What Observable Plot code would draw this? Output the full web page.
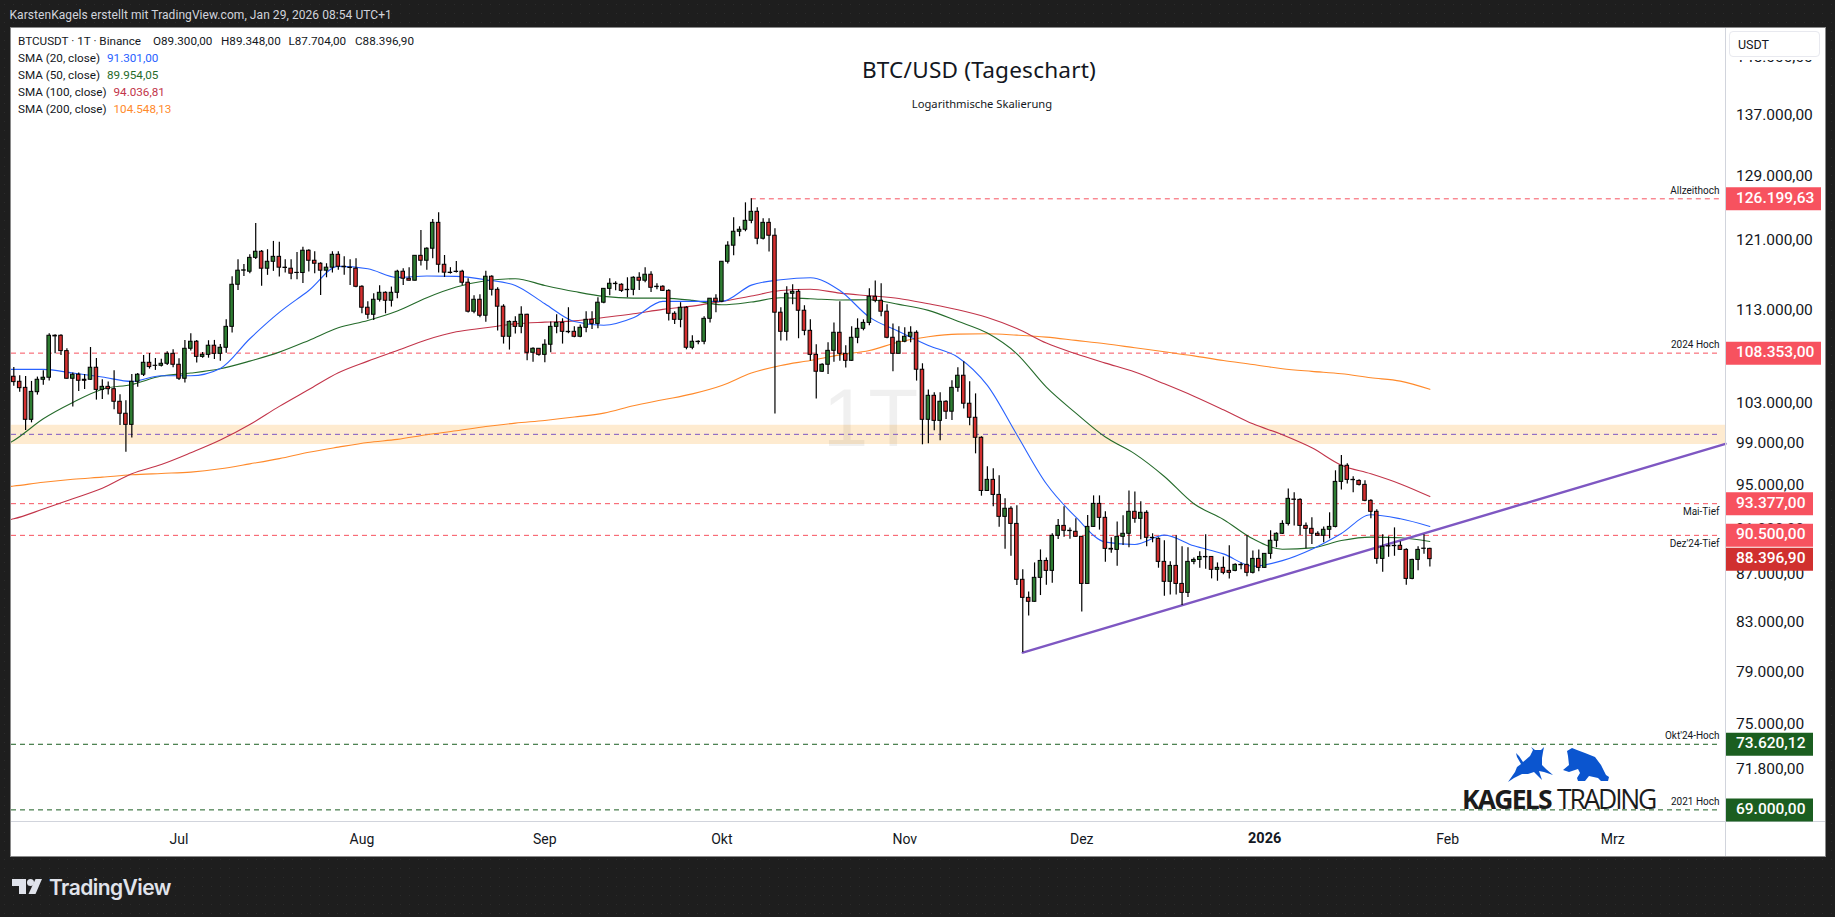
<!DOCTYPE html>
<html lang="de"><head><meta charset="utf-8">
<script src="https://cdn.jsdelivr.net/npm/d3@7"></script>
<script src="https://cdn.jsdelivr.net/npm/@observablehq/plot@0.6"></script>
<style>
html,body{margin:0;padding:0;width:1835px;height:917px;overflow:hidden;background:#1e1e1e;background-image:radial-gradient(#2b2b2b 0.6px,transparent 0.7px);background-size:9px 9px;}
#chart{position:absolute;left:11px;top:28px;width:1814px;height:828px;outline:1px solid #8a8a8a;background:#fff}
#chart svg{display:block}
.t{position:absolute;white-space:nowrap;font-family:Roboto,sans-serif;line-height:1}
.lg{font-size:11.7px;color:#131722}
</style></head><body>
<div id="chart"></div>
<div class="t" style="left:9.5px;top:9px;font-size:12px;color:#d1d4dc;letter-spacing:.06px">KarstenKagels erstellt mit TradingView.com, Jan 29, 2026 08:54 UTC+1</div>
<div id="legend"></div>
<div style="position:absolute;left:1727px;top:29px;width:97px;height:31px;background:#fff"></div>
<div class="t" style="left:1729px;top:31px;width:91px;height:26px;box-sizing:border-box;border:1px solid #e8e9ef;border-radius:4px;background:#fff;font:12.5px/25px Roboto,sans-serif;color:#131722;padding-left:8px">USDT</div>
<div class="t" style="left:779px;width:400px;text-align:center;top:54px;font:22.6px 'Noto Sans',sans-serif;color:#131722;letter-spacing:.2px">BTC/USD (Tageschart)</div>
<div class="t" style="left:780px;width:404px;text-align:center;top:96px;font:11.2px 'Noto Sans',sans-serif;color:#131722">Logarithmische Skalierung</div>
<svg style="position:absolute;left:1508px;top:747px" width="45" height="35" viewBox="0 0 45 35"><path fill="#0b55cf" d="M0 35L7 25L9 20L13 17L9 10L8 6L11 9L15 15L22 9L25 3L23 0L27 3L33 3L36 0L35 5L34 11L34 18L38 22L45 28L36 25L31 24L34 33L26 25L20 27L14 27L6 31Z"/></svg>
<svg style="position:absolute;left:1563px;top:748px" width="46" height="34" viewBox="0 0 46 34"><path fill="#0b55cf" d="M0 22L6 17L5 8L4 3L9 0L14 2L22 5L32 9L38 17L43 27L46 29L45 33L38 33L35 30L26 28L22 33L15 33L14 30L17 25L15 21L6 24Z"/></svg>
<div class="t" style="left:1462px;top:781px;font:700 26.5px 'Open Sans',sans-serif;color:#1c1c1c;letter-spacing:-1.8px">KAGELS</div>
<div class="t" style="left:1557px;top:781px;font:400 26.5px 'Open Sans',sans-serif;color:#1c1c1c;letter-spacing:-2.2px">TRADING</div>
<svg style="position:absolute;left:12px;top:879px" width="30" height="15" viewBox="0 0 30 15"><path fill="#e0e3eb" d="M0 0H14V15H7V7H0Z"/><circle fill="#e0e3eb" cx="18.5" cy="3.5" r="3.5"/><path fill="#e0e3eb" d="M23.5 0H30L23.5 15H16.5Z"/></svg>
<div class="t" style="left:49px;top:875px;font:600 21px Inter,sans-serif;color:#e0e3eb;letter-spacing:-.55px">TradingView</div>
<script>
const firstDay = new Date(Date.UTC(2025, 5, 3));
const opens = [105855,105330,104700,101445,104250,105540,105750,110230,110230,108570,
105645,106065,105540,105540,106800,104490,104805,104560,103270,102055,
100940,105330,106065,107325,107010,107010,107220,108280,107115,105645,
108820,109580,107955,108170,109150,108280,108930,111205,115925,117550,
117430,119050,119770,117780,118590,119170,117900,117780,117300,117280,
119890,118710,118360,117550,117900,119410,118010,117900,117780,115695,
113325,112540,114220,115010,114110,115010,117430,116620,116390,119290,
118710,120130,123240,118240,117320,117430,117430,116160,112880,114220,
112430,116850,115350,113440,110120,111750,111205,112540,108390,108820,
108170,109255,111205,111640,110660,110660,110120,111100,111980,111530,
113890,115460,116040,115925,115350,115350,116730,116390,117080,115700,
115700,115230,112650,111980,113325,108930,109580,109580,112090,114340,
114000,118590,120490,122160,122400,123490,124590,121320,123240,121680,
112770,110660,114900,115120,112990,110770,108170,106380,107115,108600,
110555,108280,107535,110010,110990,111640,114560,114110,112880,110010,
108280,109580,110120,110555,106590,101445,103880,101340,103270,102260,
104700,105960,103070,101650,99660,94560,95600,94190,92170,92910,
91530,86610,85080,84750,86780,88240,87380,90460,91350,90910,
90820,90370,86260,91260,93360,92080,89300,89210,90370,90640,
92630,91990,92540,90280,90190,88160,86440,87810,86260,85500,
88160,88330,88590,88590,87470,87640,87380,87380,87900,87900,
87210,88420,87640,88860,90020,90640,91530,93760,93730,91350,
91085,90640,90460,91000,91260,95410,96940,95600,95500,95130,
93640,92630,88420,89540,89570,89570,89210,86690,88330,89300,
89300];
const highs = [106835,105960,105890,105365,105820,106485,110450,110340,110340,108820,
106240,106240,106100,108960,107780,105540,105295,106485,103980,103370,
106100,106205,108095,108315,107780,107710,108500,108710,107745,109725,
110450,109725,108425,109690,109725,109290,111980,116850,118820,118280,
119410,123160,119930,120010,121000,120885,118820,118820,119690,120290,
120010,119770,118470,118360,119770,119770,119170,118820,118940,115810,
114000,114900,115810,115120,115660,117590,117780,117900,119290,122320,
120250,123650,124470,119330,117900,118630,117590,116620,114670,114780,
117470,116970,115580,113660,111860,112310,113440,112600,108930,108820,
109800,111750,112540,112090,113325,111205,111420,112880,112880,114450,
115460,116620,116270,116040,116730,116850,117320,117900,117430,116040,
115810,115350,112880,113890,113440,110230,109690,112310,114340,114780,
118590,120970,123850,122760,125700,126200,125090,123730,123730,122520,
113325,115695,115925,115350,113550,111980,109255,107220,109470,111640,
114000,109150,111205,112090,111980,115460,116350,116040,113660,111530,
111205,111100,111205,110770,107220,104490,104185,104185,103370,105435,
106800,107430,105330,104080,99760,96840,96650,95985,93825,93090,
93180,87470,85580,88070,89210,88500,90640,91930,93090,91170,
91990,90400,92300,94100,94100,92630,90280,91710,92270,94560,
94470,93550,92720,90640,90280,90020,88160,90460,89480,89390,
88500,89040,90550,88600,88070,88590,89570,87990,88070,90460,
89120,89210,88890,90910,90730,91810,94745,94380,93825,91620,
92080,90820,91260,92540,96460,97920,97130,95890,95600,95510,
93730,92820,90550,90370,91170,89930,89300,88390,89480,90550,
89348];
const lows = [104875,104250,100385,101140,103950,104980,105400,108280,108100,105610,
102730,104320,104525,105470,103440,103510,103950,102460,100875,98250,
99630,104770,105890,106660,106520,106870,107045,106800,105470,105190,
108570,107290,107815,107815,107675,107500,108350,110520,115270,116890,
117200,118860,115770,117010,117470,116810,117280,116500,116500,116080,
117390,117200,114710,116730,117280,117590,117010,115850,115580,112650,
112030,111900,113960,112650,113400,114340,115850,116350,116350,118090,
117590,118940,117280,116770,117160,117280,115850,112730,112650,112200,
111720,114640,110740,109330,108680,110410,110450,107535,107395,108030,
107325,108390,110450,109330,110450,110010,110010,110555,110920,110990,
113780,114670,115230,115050,114450,114670,115270,116160,115050,115350,
115160,111860,111460,111100,108710,108710,109255,109255,111640,112770,
113890,118320,119290,121560,122160,123120,120610,121160,119730,102020,
109650,109650,113660,109905,110230,107500,103540,106310,106100,107395,
107500,106765,107500,109365,110770,111315,113890,112310,109905,106380,
108250,109470,109470,105400,98970,99070,100350,99370,101480,101380,
104250,102530,100840,98090,94070,94530,93090,91230,89270,88650,
86120,80600,83560,84720,85275,86150,86320,90130,90340,90160,
90340,83890,86260,91230,90970,88130,88910,87785,89600,89390,
91590,90100,89480,89840,87610,85220,85330,85330,84440,85120,
87900,87610,87530,86690,86490,87040,86690,87300,87470,86870,
87120,87300,87610,88390,89390,90580,91350,91350,90490,89300,
89690,90430,89840,90190,91170,94650,95220,94380,95030,93550,
91990,87960,87270,88560,88650,89150,86150,86610,87380,88820,
87704];
const closes = [105295,104665,101445,104285,105540,105750,110230,110160,108570,105645,
106065,105435,105435,106800,104490,104805,104560,103270,102055,100940,
105330,106065,107325,106870,107000,107220,108280,107115,105645,108820,
109580,107955,108170,109150,108280,108930,111205,115925,117550,117590,
119050,119770,117780,118590,119170,117900,117860,117200,117280,119890,
118710,118360,117550,117900,119410,118010,117950,117860,115695,113325,
112540,114220,115010,114110,115010,117430,116620,116390,119290,118710,
120130,123240,118240,117320,117280,117400,116160,112880,114220,112430,
116850,115350,113440,110120,111750,111205,112540,108390,108820,108170,
109255,111205,111640,110660,110620,110120,111100,111980,111530,113890,
115460,116040,116000,115230,115310,116730,116390,117080,115580,115660,
115230,112650,111980,113325,108930,109580,109540,112090,114340,114000,
118590,120490,122160,122400,123490,124590,121320,123240,121680,112770,
110660,114900,115120,112990,110770,108170,106380,107115,108600,110555,
108280,107535,110010,110990,111640,114560,114110,112880,110010,108280,
109580,110120,110555,106590,101445,103880,101340,103270,102260,104700,
105960,103070,101650,99660,94560,95600,94190,92170,92910,91530,
86610,85080,84750,86780,88240,87380,90460,91350,90910,90880,
90370,86260,91260,93360,92080,89300,89240,90370,90640,92630,
91990,92540,90280,90250,88160,86440,87810,86260,85500,88160,
88330,88590,88560,87470,87640,87210,87210,87900,87870,87210,
88420,87640,88860,90020,90640,91530,93825,93730,91350,91085,
90640,90460,91000,91260,95410,96940,95600,95570,95130,93640,
92630,88420,89480,89510,89540,89210,86690,88330,89210,89320,
88396.9];
// SMA lines, one reading every five days starting 29 May 2025
const sma20 = [106625,106625,106625,106240,105820,105365,105960,105960,106730,109905,112800,115270,118050,117780,116775,116930,116890,116500,115850,113770,111790,111385,112200,114035,114035,114035,115885,116500,116735,115270,112280,110700,109185,107920,104950,99960,95230,92140,89900,89690,90520,89570,88860,87785,88270,89270,90670,92360,91990,91301];
const sma50 = [98080,99400,101550,103200,104560,105050,105925,106240,106695,107500,108460,109725,111100,111900,112950,114450,115660,116390,116620,115850,115160,114600,114410,114410,114150,113660,113960,114450,114340,114190,114220,113700,113030,111820,110520,108280,104770,102120,99730,98090,95920,93370,91930,90190,89270,89390,90040,90340,90280,89954];
const sma100 = [91530,91990,92880,93825,94810,96180,97060,98190,99430,100975,102800,104525,106275,107500,108640,109800,110665,111100,111530,111720,111860,112240,112650,113140,113510,114035,114640,115270,115420,114970,114670,114370,113770,113100,112240,111025,109435,108280,107290,106345,105120,103845,102460,101040,99960,98680,97000,96180,95220,94036.81];
const sma200 = [94750,95020,95380,95660,95860,96080,96210,96335,96650,97125,97630,98250,98745,99200,99500,99960,100350,100775,101110,101380,101720,102120,102865,103470,104080,104945,106240,107045,107570,108170,108640,109545,110120,110410,110450,110300,110085,109725,109365,108930,108500,108065,107570,107150,106695,106415,106170,105750,105400,104548.13];
const priceTicks = [145000,137000,129000,121000,113000,103000,99000,95000,91000,87000,83000,79000,75000,71800];
const monthTicks = [[2025,6,"Jul"],[2025,7,"Aug"],[2025,8,"Sep"],[2025,9,"Okt"],[2025,10,"Nov"],[2025,11,"Dez"],[2026,1,"Feb"],[2026,2,"Mrz"]];
const levelNames = ["Allzeithoch","2024 Hoch","Mai-Tief","Dez'24-Tief","Okt'24-Hoch","2021 Hoch"];
const levelValues = [126199.63,108353,93377,90500,73620.12,69000];
const tagValues = [126199.63,108353,93377,90500,88396.90,73620.12,69000];
const ohlcHead = ["O89.300,00","H89.348,00","L87.704,00","C88.396,90"];
const smaHead = [["SMA (20, close)","91.301,00"],["SMA (50, close)","89.954,05"],["SMA (100, close)","94.036,81"],["SMA (200, close)","104.548,13"]];
const band = [99000,100900], midLevel = 100000, trendLow = 80600, trendHigh = 99070, trendStart = new Date(Date.UTC(2025,10,21));

const cRed="#f7525f", cGreen="#1b5e20", cLast="#d0302f", cUp="#2e7d32", cDown="#d32f2f", cPurple="#7e57c2", cAxis="#d1d4dc", cText="#131722";
const cSma=["#2962ff","#256b2b","#c2354a","#ff8a2b"];
const dayMs=864e5;
const day=i=>new Date(+firstDay+i*dayMs);
const candles=opens.map((o,i)=>({date:day(i),open:o,high:highs[i],low:lows[i],close:closes[i]}));
const fmt=new Intl.NumberFormat("de-DE",{minimumFractionDigits:2,maximumFractionDigits:2});
const xDomain=[new Date(+firstDay-0.39*dayMs),new Date(+firstDay+290.1*dayMs)];
const yDomain=[68212,149330];
const smaLine=(vals,color)=>Plot.line(vals.map((v,i)=>({date:day((i-1)*5),v})),{x:"date",y:"v",stroke:color,strokeWidth:1.1,curve:"monotone-x",clip:"frame"});
const levelRule=(vals,color)=>Plot.ruleY(vals,{stroke:color,strokeWidth:1,strokeDasharray:"5 4",insetRight:4});
const tagRule=(vals,color,right)=>Plot.ruleY(vals,{stroke:color,strokeWidth:23,insetLeft:1715,insetRight:right});
const up=candles.filter(d=>d.close>=d.open), down=candles.filter(d=>d.close<d.open);
const body=(data,fill)=>Plot.rect(data,{x1:d=>new Date(+d.date-0.3*dayMs),x2:d=>new Date(+d.date+0.3*dayMs),y1:"open",y2:"close",fill,stroke:"#000",strokeWidth:1});

const plot=Plot.plot({
  width:1814,height:828,marginLeft:0,marginRight:100,marginTop:0,marginBottom:35,
  style:{background:"#fff",fontFamily:"Roboto,sans-serif",overflow:"visible",color:cText},
  x:{type:"utc",domain:xDomain,label:null},
  y:{type:"log",domain:yDomain,label:null},
  marks:[
    Plot.rectY([band],{x1:()=>xDomain[0],x2:()=>xDomain[1],y1:d=>d[0],y2:d=>d[1],fill:"#feebd0"}),
    Plot.text(["1T"],{frameAnchor:"middle",dx:2,dy:-5,fontSize:82,fill:"#000",fillOpacity:.06,fontFamily:"Liberation Sans,sans-serif"}),
    levelRule([midLevel],cPurple),
    Plot.ruleY(levelValues.slice(1,4),{stroke:cRed,strokeWidth:1,strokeDasharray:"5 4",insetRight:4}),
    Plot.ruleY([levelValues[0]],{x1:day(125),x2:xDomain[1],stroke:cRed,strokeWidth:1,strokeDasharray:"5 4",insetRight:4}),
    levelRule(levelValues.slice(4),cGreen),
    smaLine(sma200,cSma[3]),smaLine(sma100,cSma[2]),smaLine(sma50,cSma[1]),smaLine(sma20,cSma[0]),
    Plot.line([{x:trendStart,y:trendLow},{x:xDomain[1],y:trendHigh}],{x:"x",y:"y",stroke:cPurple,strokeWidth:2.4}),
    Plot.ruleX(candles,{x:"date",y1:"low",y2:"high",stroke:"#000",strokeWidth:1.2}),
    body(up,cUp),body(down,cDown),
    Plot.text(levelNames.filter((d,i)=>i==0||i==1||i==4||i==5),{y:d=>levelValues[levelNames.indexOf(d)],text:d=>d,frameAnchor:"right",textAnchor:"end",dx:-6,dy:-8,fontSize:10,fill:cText}),
    Plot.text(levelNames.slice(2,4),{y:(d,i)=>levelValues[i+2],text:d=>d,frameAnchor:"right",textAnchor:"end",dx:-6,dy:8,fontSize:10,fill:cText}),
    Plot.ruleY([yDomain[0]],{stroke:cAxis,insetRight:-100}),
    Plot.ruleX([xDomain[1]],{stroke:cAxis,insetBottom:-35}),
    Plot.axisY(priceTicks,{anchor:"right",tickSize:0,tickPadding:10.5,textAnchor:"start",tickFormat:d=>fmt.format(d),fontSize:15.5,fill:cText,label:null,dy:-1}),
    Plot.axisX(monthTicks.map(d=>new Date(Date.UTC(d[0],d[1],1))),{anchor:"bottom",tickSize:0,tickPadding:13,tickFormat:(d,i)=>monthTicks[i][2],fontSize:14,fill:cText,label:null}),
    Plot.text(["2026"],{x:()=>new Date(Date.UTC(2026,0,1)),frameAnchor:"bottom",dy:21,fontSize:14.5,fontWeight:700,fill:cText}),
    tagRule(tagValues.slice(0,2),cRed,-96),
    tagRule(tagValues.slice(2,4),cRed,-88),
    tagRule([tagValues[4]],cLast,-88),
    tagRule(tagValues.slice(5),cGreen,-88),
    Plot.text(tagValues,{y:d=>d,text:d=>fmt.format(d),frameAnchor:"right",textAnchor:"start",dx:10.5,dy:-1,fontSize:15.5,fontWeight:500,fill:"#fff"})
  ]
});
document.getElementById("chart").appendChild(plot);

const lg=document.getElementById("legend");
const add=(txt,x,y,c)=>{const d=document.createElement("div");d.className="t lg";d.textContent=txt;d.style.left=x+"px";d.style.top=(y-6)+"px";if(c)d.style.color=c;lg.appendChild(d);};
add("BTCUSDT · 1T · Binance",18,41.7);
ohlcHead.forEach((s,i)=>add(s,[153,221,288.5,355][i],41.7));
smaHead.forEach((s,i)=>{const y=58.7+17*i;add(s[0],18,y);add(s[1],i<2?107:113.5,y,cSma[i]);});
</script>
</body></html>
